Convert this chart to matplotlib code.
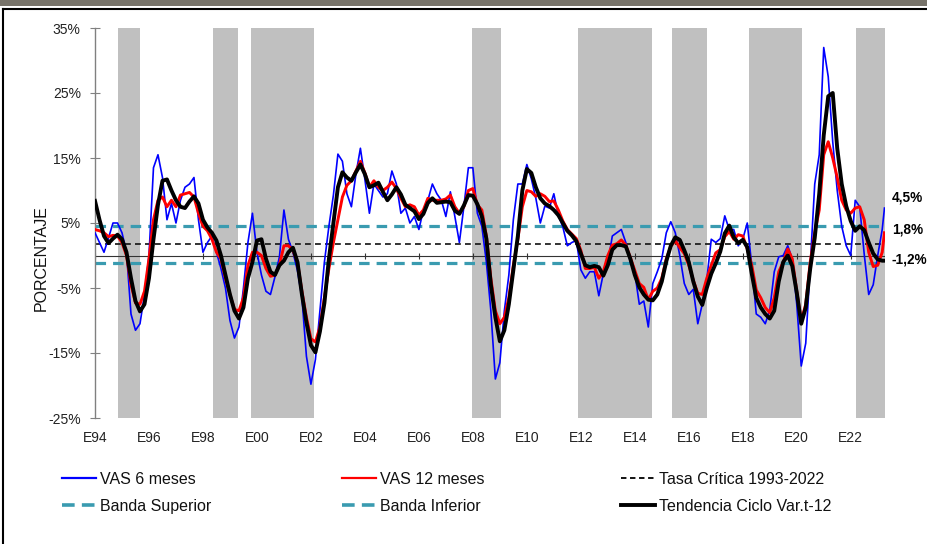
import numpy as np
import matplotlib
matplotlib.use('Agg')
import matplotlib.pyplot as plt
from matplotlib.lines import Line2D
from matplotlib.patches import Rectangle

plt.rcParams['font.family'] = ['Liberation Sans', 'DejaVu Sans']

# ---------------- data ----------------
# month index since Jan-1994 (bimonthly readings, last point Apr-2023)
month_idx = list(range(0, 351, 2)) + [351]

vas6 = [
    3.5, 2.0, 0.5, 2.7, 5.0, 5.0,          # 1994
    3.5, 0.5, -9.0, -11.5, -10.5, -6.0,    # 1995
    0.0, 13.5, 15.5, 12.0, 5.5, 8.0,       # 1996
    5.0, 8.5, 10.5, 11.0, 12.0, 5.5,       # 1997
    0.5, 2.0, 3.0, 0.5, -2.0, -5.0,        # 1998
    -10.0, -12.7, -11.0, -5.0, 2.0, 6.5,   # 1999
    0.5, -3.0, -5.5, -6.0, -3.3, -0.2,     # 2000
    7.0, 2.5, 0.5, -2.3, -6.5, -15.5,      # 2001
    -19.8, -16.0, -8.5, -1.0, 4.5, 9.3,    # 2002
    15.6, 14.5, 9.5, 7.5, 12.5, 16.5,      # 2003
    11.7, 6.5, 11.0, 10.0, 9.0, 9.5,       # 2004
    13.0, 11.0, 6.5, 7.3, 5.0, 6.0,        # 2005
    4.0, 7.0, 8.5, 11.0, 9.5, 8.5,         # 2006
    6.0, 9.8, 6.0, 2.0, 7.5, 13.5,         # 2007
    13.5, 6.5, 4.5, -1.0, -8.5, -19.0,     # 2008
    -16.5, -8.5, -3.0, 5.5, 11.0, 11.0,    # 2009
    14.0, 11.8, 8.8, 5.0, 7.6, 7.3,        # 2010
    9.5, 6.2, 4.4, 1.5, 2.0, 2.3,          # 2011
    -2.2, -3.5, -2.5, -2.5, -6.2, -2.8,    # 2012
    -1.2, 3.0, 3.5, 4.0, 2.0, -1.0,        # 2013
    -2.7, -7.5, -7.0, -11.0, -4.3, -2.5,   # 2014
    -0.5, 3.5, 5.2, 3.5, 0.0, -4.3,        # 2015
    -6.0, -5.2, -10.5, -7.5, -3.7, 2.5,    # 2016
    2.0, 2.6, 6.1, 4.0, 4.0, 1.5,          # 2017
    2.5, 5.0, -1.5, -9.0, -9.5, -10.5,     # 2018
    -8.4, -2.5, -0.2, 0.0, 1.5, -0.5,      # 2019
    -7.5, -17.0, -13.5, -1.5, 11.0, 15.5,  # 2020
    32.0, 27.5, 17.5, 10.0, 4.5, 1.5,      # 2021
    0.0, 8.5, 7.5, 0.2, -6.0, -4.5,        # 2022
    0.0, 4.0, 7.3,                         # 2023
]

vas12 = [
    4.0, 3.8, 3.5, 2.9, 3.1, 3.0,
    2.0, 0.0, -4.5, -7.3, -7.5, -5.5,
    -0.5, 5.5, 8.5, 9.0, 7.5, 8.5,
    7.5, 9.3, 9.5, 9.7, 9.0, 6.5,
    4.5, 3.8, 2.5, 0.5, -0.5, -3.5,
    -6.0, -8.3, -8.5, -6.5, -1.5, 0.5,
    0.5, 0.0, -2.0, -3.2, -3.0, -1.5,
    1.5, 1.5, 0.8, -1.0, -5.5, -9.5,
    -12.8, -13.3, -11.0, -6.5, -2.0, 2.0,
    5.5, 9.0, 10.8, 11.5, 13.0, 14.5,
    12.7, 10.5, 11.5, 10.5, 10.0, 10.5,
    11.3, 10.3, 8.8, 7.5, 7.8, 7.5,
    6.2, 7.0, 8.8, 8.5, 8.5, 8.5,
    8.7, 9.3, 7.5, 6.5, 7.5, 10.0,
    10.3, 7.8, 7.0, 3.0, -3.5, -8.5,
    -10.5, -9.5, -6.5, -1.5, 2.5, 7.5,
    10.0, 9.8, 9.1, 9.5, 9.1, 8.3,
    8.4, 7.0, 5.3, 4.0, 3.3, 2.6,
    0.8, -2.0, -2.0, -1.8, -3.5, -2.5,
    0.0, 1.6, 1.8, 2.4, 1.6, -0.3,
    -2.3, -4.3, -4.9, -6.8, -5.5, -5.0,
    -3.5, -0.5, 1.4, 2.3, 1.2, 0.3,
    -1.5, -3.8, -5.8, -6.0, -3.5, -1.5,
    0.4, 0.9, 2.9, 3.7, 2.5, 3.2,
    3.0, 1.0, -1.5, -5.3, -6.5, -8.0,
    -8.8, -6.5, -2.5, -1.0, 1.0, -0.5,
    -5.5, -10.0, -7.5, -1.0, 3.5, 7.0,
    15.5, 17.5, 15.0, 12.0, 8.5, 7.0,
    6.5, 7.3, 7.5, 5.5, 0.5, -1.7,
    -1.5, 0.5, 3.5,
]

tendencia = [
    8.4, 5.5, 3.0, 1.9, 2.6, 3.2,
    2.5, 0.5, -3.5, -7.0, -8.6, -7.5,
    -3.5, 2.5, 7.8, 11.5, 11.7, 10.0,
    8.5, 7.5, 7.3, 8.3, 9.1, 8.0,
    5.5, 4.3, 3.5, 2.3, 0.0, -3.0,
    -6.0, -8.5, -9.7, -8.0, -3.5, -1.0,
    2.3, 2.5, -0.5, -2.5, -3.0, -1.5,
    -0.8, 0.5, 1.2, -1.0, -6.0, -10.3,
    -13.8, -14.9, -11.7, -7.3, -0.5, 5.0,
    10.5, 12.8, 12.0, 11.5, 12.8, 14.0,
    12.5, 10.5, 10.8, 11.2, 9.8, 8.5,
    9.4, 10.5, 9.4, 7.8, 7.3, 6.8,
    5.6, 6.4, 8.1, 8.8, 8.1, 8.2,
    8.3, 8.2, 6.9, 6.4, 7.7, 9.3,
    9.2, 7.9, 6.0, 2.6, -4.5, -9.5,
    -13.2, -11.5, -7.5, -2.2, 3.0, 10.0,
    13.3, 12.7, 10.5, 8.8, 8.0, 7.6,
    7.0, 6.2, 5.0, 3.8, 3.1, 2.2,
    0.3, -1.5, -1.8, -1.6, -1.8, -3.1,
    -1.5, 0.9, 1.6, 1.6, 1.4, -0.5,
    -3.0, -4.9, -6.0, -6.8, -6.9, -6.0,
    -4.0, -0.9, 1.5, 2.8, 2.4, 0.8,
    -1.0, -4.0, -6.3, -7.6, -5.0, -2.8,
    -1.2, 0.6, 3.4, 4.6, 2.8, 1.9,
    2.4, 1.3, -2.8, -6.5, -8.0, -9.0,
    -9.7, -8.5, -4.0, -1.0, 0.0, -1.6,
    -5.7, -10.5, -8.0, -2.0, 2.7, 9.5,
    18.5, 24.5, 25.0, 16.5, 11.0, 7.6,
    5.3, 3.8, 4.5, 3.9, 2.0, 0.3,
    -0.6, -0.8, -0.8,
]

tasa_critica = 1.8
banda_superior = 4.5
banda_inferior = -1.2

# shaded (recession) periods, decimal years
bands_start = [1994.86, 1998.38, 1999.78, 2007.95, 2011.88, 2015.36, 2018.22, 2022.21]
bands_end   = [1995.68, 1999.29, 2002.11, 2009.04, 2014.62, 2016.69, 2020.20, 2023.27]

tick_years = list(range(1994, 2023, 2))
tick_labels = ['E%02d' % (y % 100) for y in tick_years]
y_ticks = [35, 25, 15, 5, -5, -15, -25]
right_labels = ['4,5%', '1,8%', '-1,2%']

# ---------------- figure ----------------
W, H = 928, 544
fig = plt.figure(figsize=(W / 100, H / 100), dpi=100)

# page frame
fig.patches.append(Rectangle((0, 1 - 6 / H), 1, 6 / H, transform=fig.transFigure,
                             facecolor='#77736a', edgecolor='none'))
fig.lines.append(Line2D([3 / W, 1], [1 - 8.5 / H, 1 - 8.5 / H], transform=fig.transFigure,
                        color='black', lw=1.5))
fig.lines.append(Line2D([3.5 / W, 3.5 / W], [0, 1 - 8.5 / H], transform=fig.transFigure,
                        color='black', lw=1.5))

ax = fig.add_axes([95 / W, 1 - 418 / H, (885 - 95) / W, (418 - 28) / H])
t = 1994 + np.array(month_idx) / 12.0

for s, e in zip(bands_start, bands_end):
    ax.axvspan(s, e, color='#c0c0c0', lw=0, zorder=0)

teal = '#3a9bb0'
ax.axhline(0, color='#333333', lw=0.8, zorder=1)
ax.plot(tick_years, [0] * len(tick_years), ls='none', marker='|', ms=4.5,
        mew=0.8, color='#333333', zorder=1)
ax.axhline(tasa_critica, color='#111111', lw=1.2, ls=(0, (3.5, 2.5)), zorder=2)
ax.axhline(banda_superior, color=teal, lw=2.3, ls=(0, (3.3, 2.2)), zorder=2)
ax.axhline(banda_inferior, color=teal, lw=2.3, ls=(0, (3.3, 2.2)), zorder=2)

ax.plot(t, vas6, color='#0000ff', lw=1.2, zorder=3)
ax.plot(t, vas12, color='#ff0000', lw=2.1, zorder=4)
ax.plot(t, tendencia, color='black', lw=2.8, zorder=5, solid_joinstyle='round')

ax.set_xlim(1994.0, 2023.27)
ax.set_ylim(-25, 35)
ax.set_yticks(y_ticks)
ax.set_yticklabels(['%d%%' % v for v in y_ticks])
ax.set_xticks(tick_years)
ax.set_xticklabels(tick_labels)

for sp in ['top', 'right', 'bottom']:
    ax.spines[sp].set_visible(False)
ax.spines['left'].set_color('#808080')
ax.spines['left'].set_linewidth(1.0)
ax.tick_params(axis='y', direction='inout', length=6.5, width=0.8, color='#808080',
               labelsize=10, pad=7, labelcolor='#222222')
ax.tick_params(axis='x', length=0, labelsize=10, pad=9, labelcolor='#222222')
ax.set_facecolor('white')

fig.text(41 / W, 1 - 258 / H, 'PORCENTAJE', rotation=90, ha='center', va='center',
         fontsize=11.5, color='#111111')

# right-side labels
for lab, yp in zip(right_labels, [198, 229, 259]):
    fig.text(892 / W, 1 - yp / H, lab, ha='left', va='center', fontsize=9.8,
             fontweight='bold', color='black')

# legend (three columns)
h_blue = Line2D([], [], color='#0000ff', lw=1.6)
h_red = Line2D([], [], color='#ff0000', lw=1.6)
h_tasa = Line2D([], [], color='black', lw=1.3, ls=(0, (3, 2)))
h_sup = Line2D([], [], color=teal, lw=2.6, ls=(0, (3.5, 2)))
h_inf = Line2D([], [], color=teal, lw=2.6, ls=(0, (3.5, 2)))
h_tend = Line2D([], [], color='black', lw=2.8)

cols = [([h_blue, h_sup], ['VAS 6 meses', 'Banda Superior'], 62),
        ([h_red, h_inf], ['VAS 12 meses', 'Banda Inferior'], 342),
        ([h_tasa, h_tend], ['Tasa Crítica 1993-2022', 'Tendencia Ciclo Var.t-12'], 621)]
for hs, ls_, xp in cols:
    fig.legend(hs, ls_, loc='upper left', bbox_to_anchor=(xp / W, 1 - 472 / H),
               frameon=False, fontsize=11.5, handlelength=2.15, handletextpad=0.2,
               labelspacing=0.75, borderpad=0, borderaxespad=0, labelcolor='#111111')

fig.savefig('out.png', dpi=100, facecolor='white')
